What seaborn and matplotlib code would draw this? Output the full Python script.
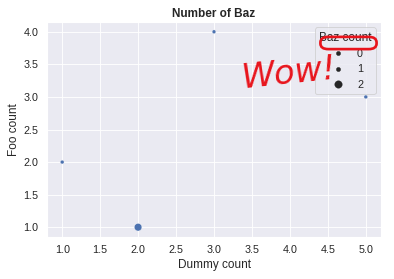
import matplotlib
matplotlib.use("Agg")
import matplotlib.pyplot as plt
import seaborn as sns
import pandas as pd
from matplotlib.patches import FancyBboxPatch

dummy = [1, 2, 3, 5]
foo = [2, 1, 4, 3]
baz = [0, 2, 0, 0]

df = pd.DataFrame({"Dummy count": dummy, "Foo count": foo, "Baz count": pd.Series(baz, dtype="int64")})

sns.set_theme(font_scale=1.1)
plt.rcParams["font.family"] = ["Liberation Sans", "DejaVu Sans"]
DPI = 64
fig = plt.figure(figsize=(394 / DPI, 279 / DPI), dpi=DPI)
ax = fig.add_axes([47 / 394, 1 - 237 / 279, (381 - 47) / 394, (237 - 22) / 279])
sns.scatterplot(data=df, x="Dummy count", y="Foo count", size="Baz count", legend="brief", ax=ax)
ax.set_title("Number of Baz", fontweight="bold")
handles, labels = ax.get_legend_handles_labels()
small = handles[0].get_markersize()
for i, h in enumerate(handles):
    h.set_color(".15")
    h.set_markerfacecolor(".15")
    h.set_markeredgecolor(".15")
    if i == 1:
        h.set_markersize(small * 1.15)
    if i == 0:
        h.set_markersize(small * 1.15)
leg = ax.legend(handles, labels, title="Baz count", loc="upper right")

# red hand-drawn annotation
fig.text(289 / 394, 1 - 74 / 279, "Wow!", color="#e8141c", fontsize=38, fontstyle="italic",
         rotation=6, ha="center", va="center", family="DejaVu Sans")
loop = FancyBboxPatch((322 / 394, 1 - 48 / 279), 53 / 394, 10 / 279,
                      boxstyle="round,pad=0.004,rounding_size=0.02", transform=fig.transFigure,
                      fill=False, edgecolor="#e8141c", linewidth=3)
fig.patches.append(loop)

fig.savefig("out.png", dpi=DPI)
